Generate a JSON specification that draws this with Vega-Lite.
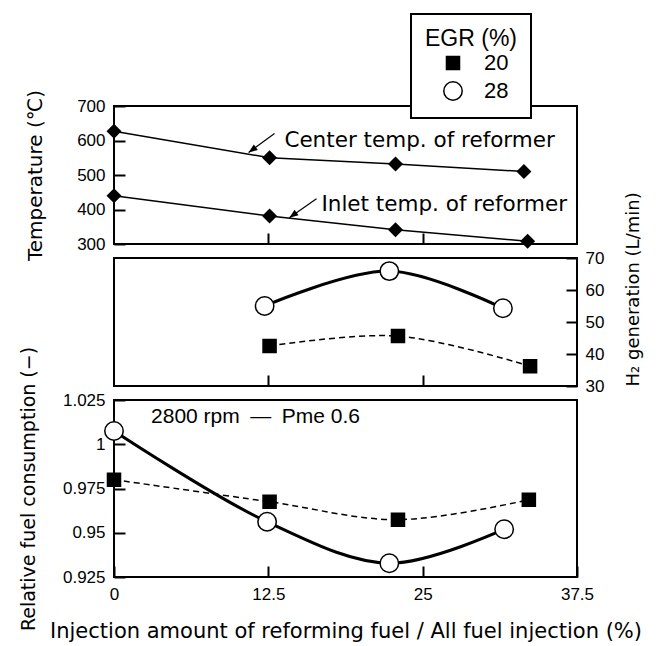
{
  "$schema": "https://vega.github.io/schema/vega-lite/v6.json",
  "background": "white",
  "padding": {"left": 18, "top": 13, "right": 5, "bottom": 0},
  "spacing": 14,
  "bounds": "flush",
  "datasets": {
    "temperature": [
      {"injection": 0, "temp": 627, "site": "Center"},
      {"injection": 12.6, "temp": 550, "site": "Center"},
      {"injection": 22.8, "temp": 532, "site": "Center"},
      {"injection": 33.2, "temp": 510, "site": "Center"},
      {"injection": 0, "temp": 440, "site": "Inlet"},
      {"injection": 12.6, "temp": 381, "site": "Inlet"},
      {"injection": 22.8, "temp": 341, "site": "Inlet"},
      {"injection": 33.5, "temp": 308, "site": "Inlet"}
    ],
    "callouts": [
      {"labelX": 13.8, "labelT": 582, "text": "Center temp. of reformer", "tailX": 13.0, "tailT": 620, "tipX": 10.9, "tipT": 565},
      {"labelX": 16.8, "labelT": 397, "text": "Inlet temp. of reformer", "tailX": 16.4, "tailT": 431, "tipX": 14.2, "tipT": 376}
    ],
    "h2": [
      {"injection": 12.2, "h2": 55.0, "egr": "28"},
      {"injection": 22.3, "h2": 65.9, "egr": "28"},
      {"injection": 31.5, "h2": 54.3, "egr": "28"},
      {"injection": 12.6, "h2": 42.5, "egr": "20"},
      {"injection": 23.0, "h2": 45.6, "egr": "20"},
      {"injection": 33.7, "h2": 36.2, "egr": "20"}
    ],
    "fuel": [
      {"injection": 0, "fuel": 1.0075, "egr": "28"},
      {"injection": 12.4, "fuel": 0.9562, "egr": "28"},
      {"injection": 22.3, "fuel": 0.9328, "egr": "28"},
      {"injection": 31.6, "fuel": 0.952, "egr": "28"},
      {"injection": 0, "fuel": 0.980, "egr": "20"},
      {"injection": 12.6, "fuel": 0.9675, "egr": "20"},
      {"injection": 23.0, "fuel": 0.9574, "egr": "20"},
      {"injection": 33.6, "fuel": 0.9686, "egr": "20"}
    ],
    "condition": [
      {"injection": 3.0, "fuel": 1.0122, "text": "2800 rpm\u2002—\u2002Pme 0.6"}
    ]
  },
  "vconcat": [
    {
      "width": 463,
      "height": 138,
      "layer": [
        {
          "data": {"name": "temperature"},
          "mark": {"type": "line", "color": "black", "strokeWidth": 1.5},
          "encoding": {
            "x": {"field": "injection", "type": "quantitative", "scale": {"domain": [0, 37.5], "nice": false},
                  "axis": {"values": [12.5, 25], "labels": false, "title": null}},
            "y": {"field": "temp", "type": "quantitative", "scale": {"domain": [300, 700], "nice": false, "zero": false},
                  "axis": {"values": [300, 400, 500, 600, 700], "format": ".4~r", "labelPadding": 9, "title": "Temperature (℃)", "titlePadding": 31}},
            "detail": {"field": "site"}
          }
        },
        {
          "data": {"name": "temperature"},
          "mark": {"type": "point", "shape": "diamond", "filled": true, "color": "black", "size": 225, "opacity": 1},
          "encoding": {
            "x": {"field": "injection", "type": "quantitative",
                  "axis": {"values": [12.5, 25], "labels": false, "title": null}},
            "y": {"field": "temp", "type": "quantitative",
                  "axis": {"values": [300, 400, 500, 600, 700], "format": ".4~r", "labelPadding": 9, "title": "Temperature (℃)", "titlePadding": 31}}
          }
        },
        {
          "data": {"name": "callouts"},
          "mark": {"type": "rule", "color": "black", "strokeWidth": 1.2},
          "encoding": {
            "x": {"field": "tailX", "type": "quantitative",
                  "axis": {"values": [12.5, 25], "labels": false, "title": null}},
            "y": {"field": "tailT", "type": "quantitative",
                  "axis": {"values": [300, 400, 500, 600, 700], "format": ".4~r", "labelPadding": 9, "title": "Temperature (℃)", "titlePadding": 31}},
            "x2": {"field": "tipX"},
            "y2": {"field": "tipT"}
          }
        },
        {
          "data": {"name": "callouts"},
          "mark": {"type": "point", "shape": "M0,0L0.38,1L-0.38,1Z", "filled": true, "color": "black", "size": 320, "angle": 234, "opacity": 1},
          "encoding": {
            "x": {"field": "tipX", "type": "quantitative",
                  "axis": {"values": [12.5, 25], "labels": false, "title": null}},
            "y": {"field": "tipT", "type": "quantitative",
                  "axis": {"values": [300, 400, 500, 600, 700], "format": ".4~r", "labelPadding": 9, "title": "Temperature (℃)", "titlePadding": 31}}
          }
        },
        {
          "data": {"name": "callouts"},
          "mark": {"type": "text", "align": "left", "baseline": "alphabetic", "font": "DejaVu Sans", "fontSize": 21.5, "color": "black"},
          "encoding": {
            "x": {"field": "labelX", "type": "quantitative",
                  "axis": {"values": [12.5, 25], "labels": false, "title": null}},
            "y": {"field": "labelT", "type": "quantitative",
                  "axis": {"values": [300, 400, 500, 600, 700], "format": ".4~r", "labelPadding": 9, "title": "Temperature (℃)", "titlePadding": 31}},
            "text": {"field": "text"}
          }
        }
      ]
    },
    {
      "width": 463,
      "height": 128,
      "data": {"name": "h2"},
      "encoding": {
        "x": {"field": "injection", "type": "quantitative", "scale": {"domain": [0, 37.5], "nice": false},
              "axis": {"values": [12.5, 25], "labels": false, "title": null}},
        "y": {"field": "h2", "type": "quantitative", "scale": {"domain": [30, 70], "nice": false, "zero": false},
              "axis": {"orient": "right", "values": [30, 40, 50, 60, 70], "format": ".4~r", "labelPadding": 8,
                       "title": "H₂ generation (L/min)", "titleFontSize": 18, "titleAngle": 270, "titleAlign": "left", "titleBaseline": "top", "titleY": 128, "titlePadding": 21}}
      },
      "layer": [
        {
          "transform": [{"filter": "datum.egr === '28'"}],
          "mark": {"type": "line", "color": "black", "strokeWidth": 3, "interpolate": "catmull-rom"}
        },
        {
          "transform": [{"filter": "datum.egr === '20'"}],
          "mark": {"type": "line", "color": "black", "strokeWidth": 1.5, "strokeDash": [6, 4], "interpolate": "catmull-rom"}
        },
        {
          "mark": {"type": "point", "filled": true, "strokeWidth": 1.5, "opacity": 1},
          "encoding": {
            "shape": {"field": "egr", "type": "nominal", "scale": {"domain": ["20", "28"], "range": ["square", "circle"]},
                      "legend": {"title": "EGR (%)", "orient": "none", "legendX": 297, "legendY": -92}},
            "fill": {"field": "egr", "type": "nominal", "scale": {"domain": ["20", "28"], "range": ["black", "white"]},
                     "legend": {"title": "EGR (%)", "orient": "none", "legendX": 297, "legendY": -92}},
            "stroke": {"field": "egr", "type": "nominal", "scale": {"domain": ["20", "28"], "range": ["black", "black"]},
                       "legend": {"title": "EGR (%)", "orient": "none", "legendX": 297, "legendY": -92}},
            "size": {"field": "egr", "type": "nominal", "scale": {"domain": ["20", "28"], "range": [170, 340]},
                     "legend": {"title": "EGR (%)", "orient": "none", "legendX": 297, "legendY": -92}}
          }
        }
      ]
    },
    {
      "width": 463,
      "height": 177,
      "layer": [
        {
          "data": {"name": "fuel"},
          "transform": [{"filter": "datum.egr === '28'"}],
          "mark": {"type": "line", "color": "black", "strokeWidth": 3, "interpolate": "catmull-rom"},
          "encoding": {
            "x": {"field": "injection", "type": "quantitative", "scale": {"domain": [0, 37.5], "nice": false},
                  "axis": {"values": [0, 12.5, 25, 37.5], "format": ".4~r", "labelPadding": 9,
                           "title": "Injection amount of reforming fuel / All fuel injection (%)", "titleFontSize": 21, "titlePadding": 18}},
            "y": {"field": "fuel", "type": "quantitative", "scale": {"domain": [0.925, 1.025], "nice": false, "zero": false},
                  "axis": {"values": [0.925, 0.95, 0.975, 1, 1.025], "format": ".4~r", "labelPadding": 9,
                           "title": "Relative fuel consumption (−)", "titleFontSize": 19, "titlePadding": 24}}
          }
        },
        {
          "data": {"name": "fuel"},
          "transform": [{"filter": "datum.egr === '20'"}],
          "mark": {"type": "line", "color": "black", "strokeWidth": 1.5, "strokeDash": [6, 4], "interpolate": "catmull-rom"},
          "encoding": {
            "x": {"field": "injection", "type": "quantitative"},
            "y": {"field": "fuel", "type": "quantitative"}
          }
        },
        {
          "data": {"name": "fuel"},
          "mark": {"type": "point", "filled": true, "strokeWidth": 1.5, "opacity": 1},
          "encoding": {
            "x": {"field": "injection", "type": "quantitative"},
            "y": {"field": "fuel", "type": "quantitative"},
            "shape": {"field": "egr", "type": "nominal", "scale": {"domain": ["20", "28"], "range": ["square", "circle"]},
                      "legend": {"title": "EGR (%)", "orient": "none", "legendX": 297, "legendY": -92}},
            "fill": {"field": "egr", "type": "nominal", "scale": {"domain": ["20", "28"], "range": ["black", "white"]},
                     "legend": {"title": "EGR (%)", "orient": "none", "legendX": 297, "legendY": -92}},
            "stroke": {"field": "egr", "type": "nominal", "scale": {"domain": ["20", "28"], "range": ["black", "black"]},
                       "legend": {"title": "EGR (%)", "orient": "none", "legendX": 297, "legendY": -92}},
            "size": {"field": "egr", "type": "nominal", "scale": {"domain": ["20", "28"], "range": [170, 340]},
                     "legend": {"title": "EGR (%)", "orient": "none", "legendX": 297, "legendY": -92}}
          }
        },
        {
          "data": {"name": "condition"},
          "mark": {"type": "text", "align": "left", "baseline": "alphabetic", "font": "Liberation Sans", "fontSize": 21, "color": "black"},
          "encoding": {
            "x": {"field": "injection", "type": "quantitative"},
            "y": {"field": "fuel", "type": "quantitative"},
            "text": {"field": "text"}
          }
        }
      ]
    }
  ],
  "config": {
    "view": {"stroke": "black", "strokeWidth": 2},
    "axis": {
      "domain": false, "grid": false, "ticks": true,
      "tickColor": "black", "tickWidth": 2, "tickSize": 11, "offset": -11,
      "labelFont": "Liberation Sans", "labelFontSize": 17, "labelColor": "black",
      "labelOverlap": false, "labelFlush": false, "labelBound": false,
      "titleFont": "DejaVu Sans", "titleFontSize": 20, "titleFontWeight": "normal", "titleColor": "black"
    },
    "legend": {
      "fillColor": "white", "strokeColor": "black", "strokeWidth": 2, "padding": 14,
      "titleFont": "Liberation Sans", "titleFontSize": 23, "titleFontWeight": "normal", "titleColor": "black",
      "titleAnchor": "middle", "titlePadding": 1,
      "labelFont": "Liberation Sans", "labelFontSize": 22, "labelColor": "black", "labelOffset": 20,
      "rowPadding": 4, "symbolOffset": 9, "symbolStrokeColor": "black", "symbolStrokeWidth": 1.5
    }
  }
}
